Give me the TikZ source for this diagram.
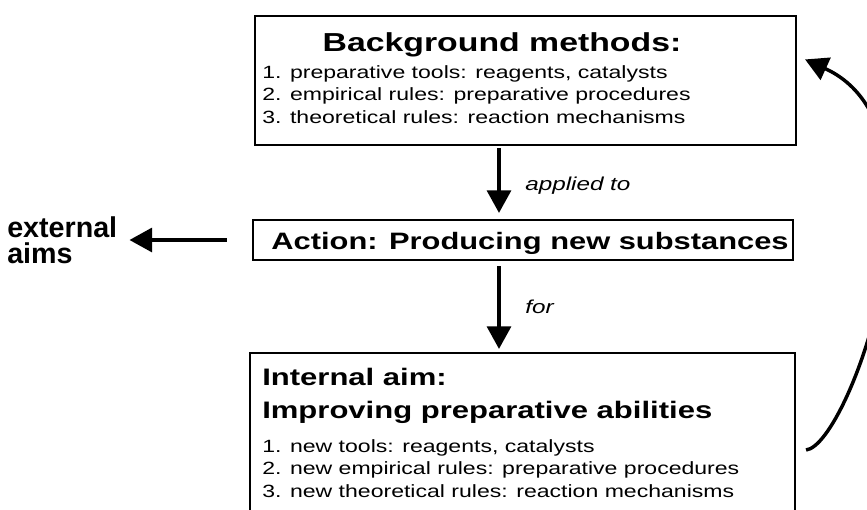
\documentclass[tikz,border=0pt]{standalone}
\usepackage{fontspec}
\setmainfont{Liberation Sans}[FakeStretch=1.3]
\newfontfamily\plainsans{Liberation Sans}
\usetikzlibrary{arrows.meta}

\begin{document}
\begin{tikzpicture}[x=0.75pt, y=-0.75pt,
  box/.style={draw, line width=1.6pt, inner sep=0pt},
  flow/.style={-{Triangle[width=18pt, length=17pt]}, line width=2.6pt},
  head/.style={font=\fontsize{19.5}{23}\selectfont\bfseries, inner sep=0pt},
  items/.style={font=\fontsize{13.3}{16.9}\selectfont, align=left, inner sep=0pt},
  note/.style={font=\fontsize{14}{16}\selectfont\itshape, inner sep=0pt}]
\useasboundingbox (0,0) rectangle (867,510);
\clip (0,0) rectangle (867,510);

% Boxes
\node[box, minimum width=405.75pt, minimum height=96.75pt] (methods) at (525.5,80.5) {};
\node[box, minimum width=405pt, minimum height=30pt] (action) at (523,240) {};
\node[box, minimum width=408.75pt, minimum height=129pt] (aim) at (522.5,439) {};

% Background methods
\node[head, anchor=base] (methodstitle) at (502,52) {Background methods:};
\node[items, anchor=north west] (methodslist) at (262,65) {1. preparative tools: reagents, catalysts\\
2. empirical rules: preparative procedures\\
3. theoretical rules: reaction mechanisms};

% Action
\node[head, font=\fontsize{17.8}{20}\selectfont\bfseries, anchor=base] (actiontext) at (530,249) {Action: Producing new substances};

% Internal aim
\node[head, align=left, anchor=north west, font=\fontsize{17.9}{24.75}\selectfont\bfseries] (aimtitle) at (262,368) {Internal aim:\\ Improving preparative abilities};
\node[items, anchor=north west] (aimlist) at (262,439) {1. new tools: reagents, catalysts\\
2. new empirical rules: preparative procedures\\
3. new theoretical rules: reaction mechanisms};

% External aims
\node[head, align=left, anchor=north west, font=\plainsans\fontsize{21.5}{19.5}\selectfont\bfseries] (ext) at (7,216) {external\\ aims};

% Arrows
\draw[flow, shorten <=1.5pt, shorten >=4.5pt] (methods.south -| 499,0) -- (action.north -| 499,0);
\node[note, anchor=base west] (appliedto) at (525,190) {applied to};
\draw[flow, shorten <=3.75pt, shorten >=2.25pt] (action.south -| 499,0) -- (aim.north -| 499,0);
\node[note, anchor=base west] (for) at (525,313) {for};
\draw[flow, shorten <=18.75pt, shorten >=9pt] (action.west) -- (ext.east |- action.west);

% Feedback loop
\draw[flow] ([shift={(7.5pt,-8.25pt)}]aim.east) .. controls (850,445) and (960,130) .. ([shift={(6pt,15.8pt)}]methods.east);
\end{tikzpicture}
\end{document}
